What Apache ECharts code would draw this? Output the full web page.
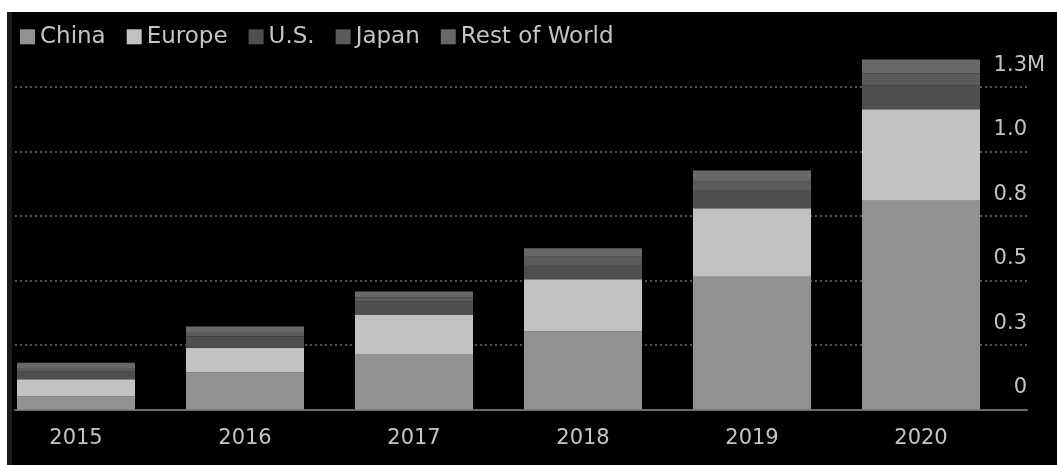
<html>

<head>
    <script src="https://cdn.jsdelivr.net/npm/echarts@6/dist/echarts.min.js"></script>
    <style>
        body {
            margin: 0;
            background: #fff;
            overflow: hidden;
        }

        #bg {
            position: absolute;
            left: 7px;
            top: 12px;
            width: 1045px;
            height: 453px;
            background: #000;
            border-left: 5px solid #1c1c1c;
        }

        /* shifted 9px left so the first bar can sit near the edge */
        #myChart {
            position: absolute;
            left: -9px;
            top: 0;
            width: 1066px;
            height: 465px;
        }
    </style>
</head>

<body>
    <div id="bg"></div>
    <div id="myChart"></div>
    <script>
        var years = ['2015', '2016', '2017', '2018', '2019', '2020'];
        // values in millions
        var china = [0.050, 0.143, 0.215, 0.302, 0.515, 0.809];
        var europe = [0.067, 0.096, 0.151, 0.203, 0.265, 0.355];
        var us = [0.029, 0.044, 0.052, 0.055, 0.071, 0.093];
        var japan = [0.015, 0.017, 0.016, 0.032, 0.032, 0.045];
        var rest = [0.020, 0.022, 0.023, 0.033, 0.043, 0.055];
        var yTickLabels = ['0', '0.3', '0.5', '0.8', '1.0', '1.3M'];

        var myChart = echarts.init(document.getElementById('myChart'));

        var txt = '#c4c4c4';
        var font = 'DejaVu Sans';

        function barSeries(name, data, color) {
            return {
                name: name,
                type: 'bar',
                stack: 'total',
                xAxisIndex: 0,
                yAxisIndex: 0,
                barWidth: 118,
                data: data,
                itemStyle: {
                    color: color
                }
            };
        }

        var option = {
            backgroundColor: 'transparent',
            animation: false,
            legend: {
                left: 24,
                top: 9,
                itemWidth: 15,
                itemHeight: 15,
                itemGap: 21,
                icon: 'rect',
                data: ['China', 'Europe', 'U.S.', 'Japan', 'Rest of World'],
                textStyle: {
                    color: txt,
                    fontSize: 23,
                    fontFamily: font
                }
            },
            grid: [{
                    // bars
                    left: 0.5,
                    right: 51.5,
                    top: 22.5,
                    bottom: 55.5
                },
                {
                    // gridlines + right axis
                    left: 24,
                    right: 30,
                    top: 87,
                    bottom: 55.5
                }
            ],
            xAxis: [{
                    type: 'category',
                    gridIndex: 0,
                    data: years,
                    axisLine: {
                        show: false
                    },
                    axisTick: {
                        show: false
                    },
                    axisLabel: {
                        margin: 8,
                        color: txt,
                        fontSize: 21,
                        fontFamily: font
                    }
                },
                {
                    type: 'category',
                    gridIndex: 1,
                    data: years,
                    axisLine: {
                        lineStyle: {
                            color: '#6a6a6a',
                            width: 2
                        }
                    },
                    axisTick: {
                        show: false
                    },
                    axisLabel: {
                        show: false
                    }
                }
            ],
            yAxis: [{
                    type: 'value',
                    gridIndex: 0,
                    min: 0,
                    max: 1.5,
                    show: false
                },
                {
                    type: 'value',
                    gridIndex: 1,
                    position: 'right',
                    min: 0,
                    max: 1.25,
                    interval: 0.25,
                    axisLine: {
                        show: false
                    },
                    axisTick: {
                        show: false
                    },
                    splitLine: {
                        lineStyle: {
                            color: '#6e6e6e',
                            type: [2, 3],
                            width: 1.5
                        }
                    },
                    axisLabel: {
                        inside: true,
                        margin: 0,
                        verticalAlign: 'bottom',
                        padding: [0, 0, 1, 0],
                        color: txt,
                        fontSize: 21,
                        fontFamily: font,
                        formatter: function (value) {
                            var s = yTickLabels[Math.round(value / 0.25)];
                            // the unit hangs past the right edge of the numbers
                            if (s.slice(-1) == 'M') {
                                return '{n|' + s.slice(0, -1) + '}{u|M}';
                            }
                            return s;
                        },
                        rich: {
                            n: {
                                color: txt,
                                fontSize: 21,
                                fontFamily: font,
                                align: 'left'
                            },
                            u: {
                                color: txt,
                                fontSize: 21,
                                fontFamily: font,
                                width: 0,
                                align: 'left'
                            }
                        }
                    }
                }
            ],
            series: [
                barSeries('China', china, '#929292'),
                barSeries('Europe', europe, '#c2c2c2'),
                barSeries('U.S.', us, '#4f4f4f'),
                barSeries('Japan', japan, '#5b5b5b'),
                barSeries('Rest of World', rest, '#686868')
            ]
        };

        myChart.setOption(option);
    </script>
</body>

</html>
